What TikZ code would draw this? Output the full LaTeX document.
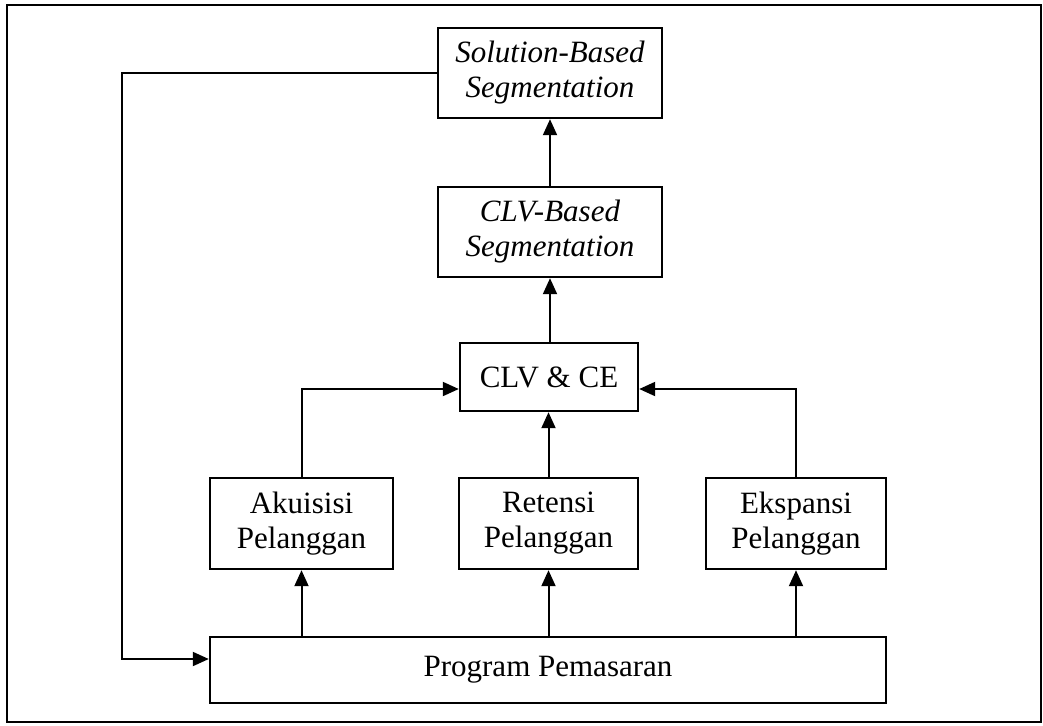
\documentclass[tikz,border=0pt]{standalone}
\usepackage{fontspec}
\setmainfont{Liberation Serif}
\usetikzlibrary{arrows.meta}
\begin{document}
\begin{tikzpicture}[x=0.5pt,y=-0.5pt,
  every node/.style={font=\fontsize{15.5}{17.5}\selectfont},
  box/.style={draw,line width=1.2pt,align=center,inner sep=0pt},
  flow/.style={line width=1pt,-{Triangle[length=8pt,width=7pt]}}]
  \useasboundingbox (0,0) rectangle (1043,725);
  % outer frame
  \draw[line width=1.2pt] (7,5) rectangle (1041,722);

  % boxes
  \node[box,minimum width=112pt,minimum height=45pt] (sol) at (550,73)
    {\itshape Solution-Based\\\itshape Segmentation};
  \node[box,minimum width=112pt,minimum height=45pt] (clvb) at (550,232)
    {\itshape CLV-Based\\\itshape Segmentation};
  \node[box,minimum width=89pt,minimum height=34pt] (clv) at (549,377)
    {CLV \& CE};
  \node[box,minimum width=91.5pt,minimum height=45.5pt] (ak) at (301.5,523.5)
    {Akuisisi\\Pelanggan};
  \node[box,minimum width=89.5pt,minimum height=45.5pt] (ret) at (548.5,523.5)
    {Retensi\\Pelanggan};
  \node[box,minimum width=90pt,minimum height=45.5pt] (eks) at (796,523.5)
    {Ekspansi\\Pelanggan};
  \node[box,minimum width=338pt,minimum height=33pt] (prog) at (548,670)
    {Program Pemasaran};

  \coordinate (back) at (122,73);

  % upward chain
  \draw[flow] (clvb.north) -- (sol.south);
  \draw[flow] (clvb.south |- clv.north) -- (clvb.south);
  \draw[flow] (ret.north) -- (ret.north |- clv.south);
  \draw[flow] (ak.north) |- ([yshift=-6pt]clv.west);
  \draw[flow] (eks.north) |- ([yshift=-6pt]clv.east);

  % programme feeds the three activities
  \draw[flow] (prog.north -| ak) -- (ak.south);
  \draw[flow] (prog.north -| ret) -- (ret.south);
  \draw[flow] (prog.north -| eks) -- (eks.south);

  % feedback loop
  \draw[flow] (sol.west) -- (back) |- ([yshift=5.5pt]prog.west);
\end{tikzpicture}
\end{document}
